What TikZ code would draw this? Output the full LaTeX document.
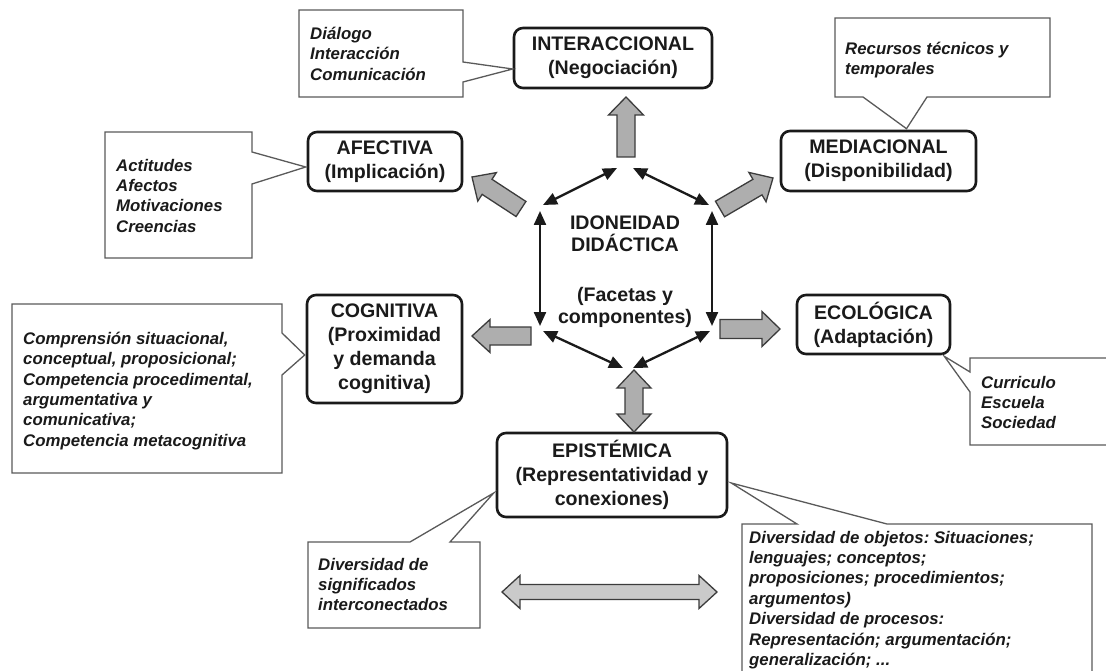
\documentclass[tikz,border=0pt]{standalone}
\usepackage{fontspec}
\setmainfont{Liberation Sans}
\usetikzlibrary{calc,arrows.meta}
\frenchspacing

\definecolor{ink}{HTML}{1A1A1A}
\definecolor{fatgray}{HTML}{AEAEAE}
\definecolor{fatlight}{HTML}{CACACA}
\definecolor{callline}{HTML}{5A5A5A}

% outlined block arrow: [fill] {tail} {tip} {shaft half-width} {head half-width}
\newcommand{\fatarrow}[5][fatgray]{%
  \coordinate (fa-b) at ($(#3)!18pt!(#2)$);
  \draw[fatstyle, fill=#1]
    ($(#2)!#4!90:(#3)$) -- ($(fa-b)!#4!90:(#3)$) -- ($(fa-b)!#5!90:(#3)$) -- (#3)
    -- ($(fa-b)!#5!-90:(#3)$) -- ($(fa-b)!#4!-90:(#3)$) -- ($(#2)!#4!-90:(#3)$) -- cycle;}

% outlined double-headed block arrow
\newcommand{\fatdarrow}[5][fatgray]{%
  \coordinate (fa-a) at ($(#2)!18pt!(#3)$);
  \coordinate (fa-b) at ($(#3)!18pt!(#2)$);
  \draw[fatstyle, fill=#1]
    (#2) -- ($(fa-a)!#5!90:(#3)$) -- ($(fa-a)!#4!90:(#3)$) -- ($(fa-b)!#4!90:(#3)$)
    -- ($(fa-b)!#5!90:(#3)$) -- (#3) -- ($(fa-b)!#5!-90:(#3)$) -- ($(fa-b)!#4!-90:(#3)$)
    -- ($(fa-a)!#4!-90:(#3)$) -- ($(fa-a)!#5!-90:(#3)$) -- cycle;}

\tikzset{
  facet/.style={draw=ink, line width=2.6pt, rounded corners=9pt, fill=white,
    align=center, inner sep=0pt, text=ink, font={\fontsize{19.6}{24}\selectfont\bfseries}},
  hubtext/.style={align=center, inner sep=0pt, text=ink,
    font={\fontsize{19.6}{22}\selectfont\bfseries}},
  note/.style={align=left, inner sep=0pt, anchor=north west, text=ink,
    font={\fontsize{16.8}{20.4}\selectfont\bfseries\itshape}},
  callout/.style={draw=callline, line width=1.3pt, fill=white, line join=miter},
  hexedge/.style={draw=ink, line width=2.3pt,
    {Triangle[length=14pt,width=12pt]}-{Triangle[length=14pt,width=12pt]}},
  fatstyle/.style={draw=ink!85, line width=1.3pt, line join=miter},
}

\begin{document}
\begin{tikzpicture}[x=1pt,y=-1pt]
\useasboundingbox[fill=white] (0,0) rectangle (1106,671);

% ---- facet boxes ----
\node[facet, minimum width=198pt, minimum height=60pt] (inter) at (613,58) {INTERACCIONAL\\(Negociación)};
\node[facet, minimum width=154pt, minimum height=59pt] (afect) at (385,161.5) {AFECTIVA\\(Implicación)};
\node[facet, minimum width=195pt, minimum height=60pt] (media) at (878.5,161) {MEDIACIONAL\\(Disponibilidad)};
\node[facet, minimum width=155pt, minimum height=108pt] (cogn) at (384.5,349) {COGNITIVA\\(Proximidad\\y demanda\\cognitiva)};
\node[facet, minimum width=153pt, minimum height=59pt] (ecol) at (873.5,324.5) {ECOLÓGICA\\(Adaptación)};
\node[facet, minimum width=230pt, minimum height=84pt] (epist) at (612,475) {EPISTÉMICA\\(Representatividad y\\conexiones)};

% ---- central hexagon ----
\node[hubtext] (hub) at (625,272) {IDONEIDAD\\DIDÁCTICA\\[28pt](Facetas y\\componentes)};

\coordinate (a1) at (617,168); \coordinate (a2) at (633,168);
\coordinate (b1) at (543,205); \coordinate (b2) at (540,211);
\coordinate (c1) at (540,326); \coordinate (c2) at (543,331);
\coordinate (d1) at (623,368); \coordinate (d2) at (633,368);
\coordinate (e1) at (710,331); \coordinate (e2) at (712,326);
\coordinate (f1) at (712,211); \coordinate (f2) at (709,205);
\draw[hexedge] (a1) -- (b1);
\draw[hexedge] (b2) -- (c1);
\draw[hexedge] (c2) -- (d1);
\draw[hexedge] (d2) -- (e1);
\draw[hexedge] (e2) -- (f1);
\draw[hexedge] (f2) -- (a2);

% ---- block arrows from the hexagon to each facet ----
\coordinate (upT) at (626,157);  \coordinate (upH) at (626,97);
\coordinate (nwT) at (521,209);  \coordinate (nwH) at (472,177);
\coordinate (neT) at (720,209);  \coordinate (neH) at (773,178);
\coordinate (wT)  at (531,336);  \coordinate (wH)  at (472,336);
\coordinate (eT)  at (720,329);  \coordinate (eH)  at (780,329);
\coordinate (sA)  at (634,370);  \coordinate (sB)  at (634,432);
\coordinate (hA)  at (502,592);  \coordinate (hB)  at (717,592);
\fatarrow{upT}{upH}{9pt}{17.5pt}
\fatarrow{nwT}{nwH}{9pt}{17pt}
\fatarrow{neT}{neH}{9pt}{17pt}
\fatarrow{wT}{wH}{9pt}{16.5pt}
\fatarrow{eT}{eH}{9.5pt}{17.5pt}
\fatdarrow{sA}{sB}{9pt}{17pt}
\fatdarrow[fatlight]{hA}{hB}{7.5pt}{16.5pt}

% ---- callouts ----
\coordinate (dlgTip) at ($(inter.west)+(0,11)$);
\draw[callout] (299,10) -- (463,10) -- (463,62) -- (dlgTip) -- (463,82) -- (463,97) -- (299,97) -- cycle;
\node[note] (dlg) at (310,26.7) {Diálogo\\Interacción\\Comunicación};

\coordinate (actTip) at ($(afect.west)+(-1,5.5)$);
\draw[callout] (105,132) -- (252,132) -- (252,152) -- (actTip) -- (252,184) -- (252,258) -- (105,258) -- cycle;
\node[note] (act) at (116,158.7) {Actitudes\\Afectos\\Motivaciones\\Creencias};

\coordinate (recTip) at ($(media.north)+(28,-1)$);
\draw[callout] (835,18) -- (1050,18) -- (1050,97) -- (927,97) -- (recTip) -- (863,97) -- (835,97) -- cycle;
\node[note] (rec) at (845,41.7) {Recursos técnicos y\\temporales};

\coordinate (compTip) at ($(cogn.west)+(-1,6)$);
\draw[callout] (12,304) -- (282,304) -- (282,333) -- (compTip) -- (282,375) -- (282,473) -- (12,473) -- cycle;
\node[note] (comp) at (23,331.7) {Comprensión situacional,\\conceptual, proposicional;\\Competencia procedimental,\\argumentativa y\\comunicativa;\\Competencia metacognitiva};

\coordinate (curTip) at ($(ecol.south east)+(-7,1)$);
\draw[callout] (970,358) -- (1115,358) -- (1115,445) -- (970,445) -- (970,392) -- (curTip) -- (970,372) -- cycle;
\node[note] (cur) at (981,375.7) {Curriculo\\Escuela\\Sociedad};

\coordinate (signTip) at ($(epist.west)+(-2,18)$);
\draw[callout] (308,542) -- (410,542) -- (signTip) -- (450,542) -- (480,542) -- (480,628) -- (308,628) -- cycle;
\node[note] (sign) at (318,557.7) {Diversidad de\\significados\\interconectados};

\coordinate (objTip) at ($(epist.east)+(3,8)$);
\draw[callout] (742,524) -- (797,524) -- (objTip) -- (887,524) -- (1092,524) -- (1092,690) -- (742,690) -- cycle;
\node[note] (obj) at (749,530.7) {Diversidad de objetos: Situaciones;\\lenguajes; conceptos;\\proposiciones; procedimientos;\\argumentos)\\Diversidad de procesos:\\Representación; argumentación;\\generalización; ...};
\end{tikzpicture}
\end{document}
